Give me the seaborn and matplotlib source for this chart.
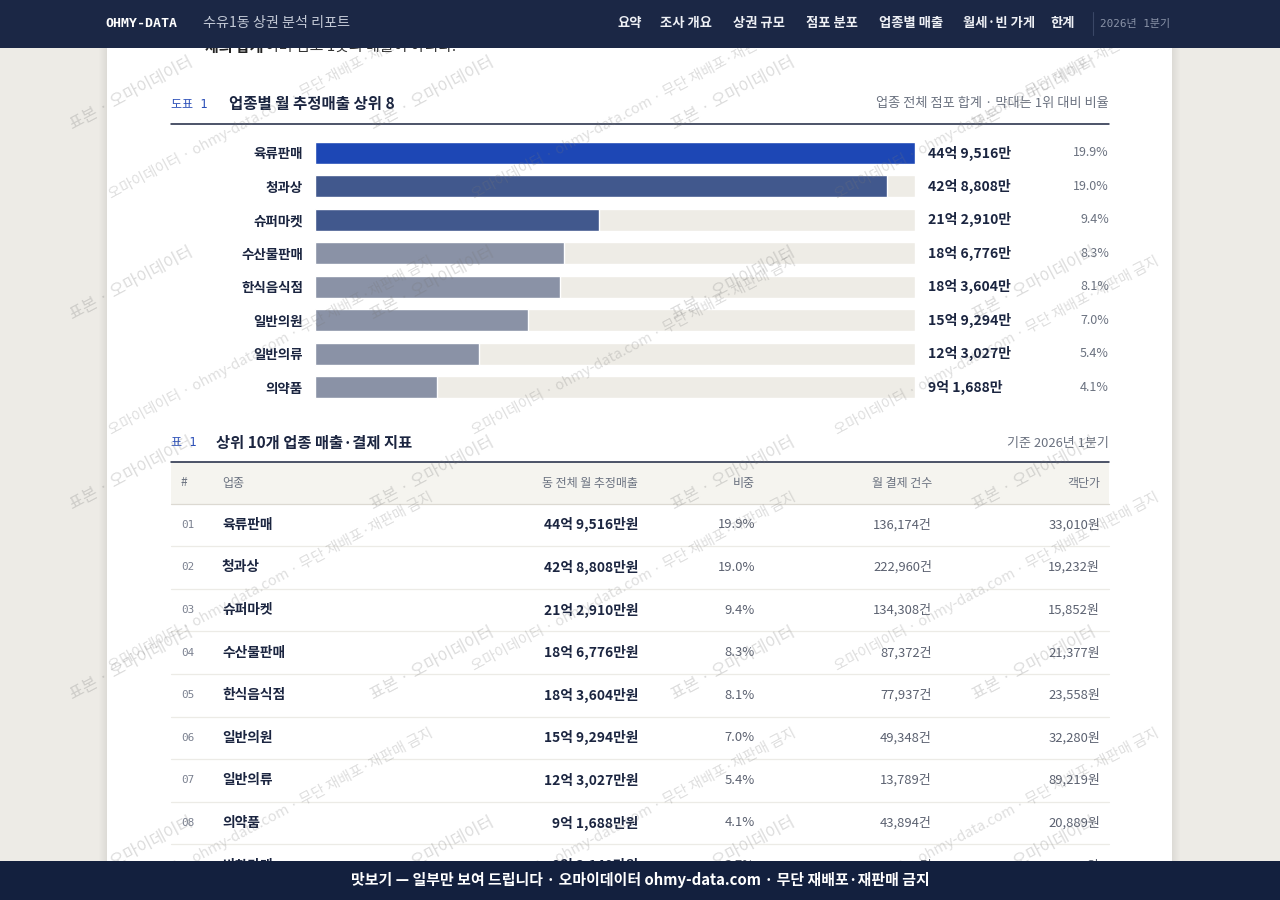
import numpy as np
import pandas as pd
import matplotlib
matplotlib.use("Agg")
import matplotlib.pyplot as plt
import seaborn as sns
from matplotlib.patches import Rectangle

# 🔹 Chart data (monthly sales in 만원)
chart_categories = ['육류판매', '청과상', '슈퍼마켓', '수산물판매', '한식음식점', '일반의원', '일반의류', '의약품']
chart_sales = [449516, 428808, 212910, 186776, 183604, 159294, 123027, 91688]
chart_shares = [19.9, 19.0, 9.4, 8.3, 8.1, 7.0, 5.4, 4.1]

# 🔹 Table data (top 10, only 9 rows visible)
table_ranks = ['01', '02', '03', '04', '05', '06', '07', '08', '09']
table_names = chart_categories + ['반찬가게']
table_sales = chart_sales + [83140]
table_shares = chart_shares + [3.7]
table_counts = [136174, 222960, 134308, 87372, 77937, 49348, 13789, 43894, 41630]
table_prices = [33010, 19232, 15852, 21377, 23558, 32280, 89219, 20889, 19971]
table_headers = ['#', '업종', '동 전체 월 추정매출', '비중', '월 결제 건수', '객단가']

nav_items = ['요약', '조사 개요', '상권 규모', '점포 분포', '업종별 매출', '월세·빈 가게', '한계']

# 🔹 Colours
NAVY = '#1b2745'
FOOT = '#13203e'
INK = '#1b2540'
GRAY = '#6b7280'
BLUE = '#2b4fb8'
TRACK = '#eeece6'
bar_colors = ['#1d47b5', '#41588d', '#41588d'] + ['#8a92a6'] * 5

PT = 0.72  # px -> pt at 100 dpi
MONO = ['DejaVu Sans Mono', 'Noto Sans CJK KR']

sns.set_theme(style='white')
plt.rcParams['font.family'] = ['Noto Sans CJK KR', 'DejaVu Sans']


def eok(v):
    return f"{v // 10000}억 {v % 10000:,}만"


fig = plt.figure(figsize=(12.8, 9), dpi=100)
fig.patch.set_facecolor('#edebe6')


def page_axes(z, x0=0, x1=1280):
    a = fig.add_axes([x0 / 1280, 0, (x1 - x0) / 1280, 1], zorder=z)
    a.set_xlim(x0, x1)
    a.set_ylim(900, 0)
    a.axis('off')
    a.patch.set_alpha(0)
    return a


# 🔹 Page background + white column
ax = page_axes(0)
for k in range(8):
    ax.add_patch(Rectangle((107 - k - 1, 0), 1065 + 2 * (k + 1), 900, color='black', alpha=0.008, lw=0))
ax.add_patch(Rectangle((107, 0), 1065, 900, color='white', lw=0))

# cut-off paragraph under the header
ax.text(205, 47, '체의 합계', fontsize=15 * PT, fontweight='bold', color='#222', va='center')
ax.text(265, 47, '이며 점포 1곳의 매출이 아니다.', fontsize=15 * PT, color='#333', va='center')

# 🔹 Chart heading
ax.text(171, 104, '도표 1', family=MONO, fontsize=12 * PT, color=BLUE, va='center')
ax.text(229, 104, '업종별 월 추정매출 상위 8', fontsize=15.5 * PT, fontweight='bold', color=INK, va='center')
ax.text(1109, 104, '업종 전체 점포 합계 · 막대는 1위 대비 비율', fontsize=13.2 * PT, color=GRAY,
        va='center', ha='right')
ax.plot([171, 1109], [124, 124], color=INK, lw=1.1)

# 🔹 Bar chart (seaborn)
row_h = 33.44
top = 153 - row_h / 2
bx = fig.add_axes([315 / 1280, 1 - (top + row_h * 8) / 900, 600 / 1280, row_h * 8 / 900], zorder=1)
bx.patch.set_alpha(0)
df = pd.DataFrame({'업종': chart_categories, '매출': chart_sales})
track = [max(chart_sales)] * len(chart_sales)
sns.barplot(x=track, y=chart_categories, color=TRACK, width=0.66, saturation=1, ax=bx)
sns.barplot(data=df, x='매출', y='업종', hue='업종', palette=bar_colors, width=0.66,
            saturation=1, legend=False, ax=bx)
bx.set_xlim(0, max(chart_sales))
bx.set_ylim(len(chart_categories) - 0.5, -0.5)
bx.set_xlabel('')
bx.set_ylabel('')
bx.set_xticks([])
sns.despine(ax=bx, left=True, bottom=True)
bx.tick_params(axis='y', length=0, pad=12 * PT, labelsize=13.5 * PT, labelcolor=INK)
for lab in bx.get_yticklabels():
    lab.set_fontweight('bold')

for i, (v, s) in enumerate(zip(chart_sales, chart_shares)):
    bx.annotate(eok(v), xy=(1, i), xycoords=bx.get_yaxis_transform(), xytext=(13 * PT, 0),
                textcoords='offset points', va='center', ha='left', fontsize=14 * PT,
                fontweight='bold', color=INK)
    bx.annotate(f'{s:.1f}%', xy=((1109 - 315) / 600, i), xycoords=bx.get_yaxis_transform(),
                va='center', ha='right', fontsize=12.5 * PT, color=GRAY)

# 🔹 Table
ax.text(171, 443, '표 1', family=MONO, fontsize=12 * PT, color=BLUE, va='center')
ax.text(216, 443, '상위 10개 업종 매출·결제 지표', fontsize=15.3 * PT, fontweight='bold', color=INK, va='center')
ax.text(1109, 443, '기준 2026년 1분기', fontsize=13 * PT, color=GRAY, va='center', ha='right')
ax.add_patch(Rectangle((171, 462), 938, 41.5, color='#f5f4ef', lw=0))
ax.plot([171, 1109], [462, 462], color=INK, lw=1.1)
ax.plot([171, 1109], [503.5, 503.5], color='#dcd9d2', lw=0.9)

col_x = [181, 222, 638, 755, 932, 1100]
col_ha = ['left', 'left', 'right', 'right', 'right', 'right']
for x, ha, h in zip(col_x, col_ha, table_headers):
    ax.text(x, 483, h, fontsize=12 * PT, color=GRAY, va='center', ha=ha)

trow = 42.6
for i in range(len(table_names)):
    y = 503.5 + (i + 0.5) * trow
    ax.text(col_x[0], y, table_ranks[i], family=MONO, fontsize=11 * PT, color='#7b8190', va='center')
    ax.text(col_x[1], y, table_names[i], fontsize=13.8 * PT, fontweight='bold', color=INK, va='center')
    ax.text(col_x[2], y, eok(table_sales[i]) + '원', fontsize=13.8 * PT, fontweight='bold', color=INK,
            va='center', ha='right')
    ax.text(col_x[3], y, f'{table_shares[i]:.1f}%', fontsize=13 * PT, color='#5b6170', va='center', ha='right')
    ax.text(col_x[4], y, f'{table_counts[i]:,}건', fontsize=13 * PT, color='#5b6170', va='center', ha='right')
    ax.text(col_x[5], y, f'{table_prices[i]:,}원', fontsize=13 * PT, color='#5b6170', va='center', ha='right')
    ax.plot([171, 1109], [503.5 + (i + 1) * trow] * 2, color='#ecebe6', lw=0.9)

# 🔹 Watermarks (clipped to the page area)
wm = page_axes(2, 70, 1175)
for j in range(-1, 6):
    for i in range(-1, 5):
        wm.text(73 + 301 * i, 130 + 190 * j, '표본 · 오마이데이터', rotation=28, rotation_mode='anchor',
                ha='left', va='baseline', fontsize=16.5 * PT, color='#777777', alpha=0.26, clip_on=True)
for j in range(-1, 5):
    for i in range(0, 4):
        wm.text(112 + 363 * i, 199 + 236 * j, '오마이데이터 · ohmy-data.com · 무단 재배포·재판매 금지',
                rotation=28, rotation_mode='anchor', ha='left', va='baseline', fontsize=14.5 * PT,
                color='#777777', alpha=0.24, clip_on=True)

# 🔹 Header + footer
hd = page_axes(3)
hd.add_patch(Rectangle((0, 0), 1280, 48, color=NAVY, lw=0))
hd.text(105, 23.5, 'OHMY-DATA', family=MONO, fontsize=13.3 * PT, fontweight='bold', color='white', va='center')
hd.text(203, 23.5, '수유1동 상권 분석 리포트', fontsize=14.1 * PT, color='#c3c9d6', va='center')
nav_x = [618, 660, 733, 806, 879, 963, 1050]
for x, t in zip(nav_x, nav_items):
    hd.text(x, 23.5, t, fontsize=13.3 * PT, fontweight='bold', color='#eef0f5', va='center')
hd.plot([1093, 1093], [12, 35], color='#3a4766', lw=0.8)
hd.text(1100, 23.5, '2026년 1분기', family=MONO, fontsize=11 * PT, color='#8a93a8', va='center')

hd.add_patch(Rectangle((0, 861), 1280, 39, color=FOOT, lw=0))
hd.text(640, 880.5, '맛보기 — 일부만 보여 드립니다 · 오마이데이터 ohmy-data.com · 무단 재배포·재판매 금지',
        fontsize=14.9 * PT, fontweight='bold', color='white', va='center', ha='center')

fig.savefig('out.png', dpi=100, facecolor=fig.get_facecolor())
